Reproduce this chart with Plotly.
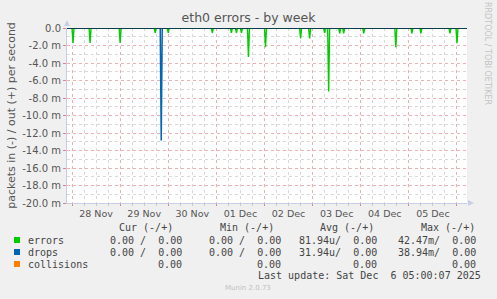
import plotly.graph_objects as go
import pandas as pd

# ---- data (packets per second, "in" direction shown negative) ----
range_start = "2025-11-27 21:30"
range_end = "2025-12-06 05:00"

error_times = ["2025-11-28 00:30", "2025-11-28 09:00", "2025-11-29 00:00", "2025-11-29 17:30",
               "2025-11-30 00:00", "2025-11-30 22:00", "2025-12-01 07:30", "2025-12-01 10:00",
               "2025-12-01 12:30", "2025-12-01 16:00", "2025-12-02 00:30", "2025-12-02 18:00",
               "2025-12-02 22:30", "2025-12-03 06:00", "2025-12-03 08:00", "2025-12-03 13:30",
               "2025-12-03 15:30", "2025-12-04 01:30", "2025-12-04 17:30", "2025-12-05 01:30",
               "2025-12-05 06:00", "2025-12-05 20:30", "2025-12-06 00:00"]
error_values = [-1.71e-3, -1.7e-3, -1.7e-3, -0.55e-3,
                -0.55e-3, -0.55e-3, -0.55e-3, -0.55e-3,
                -0.55e-3, -3.3e-3, -2.2e-3, -1.2e-3,
                -1.2e-3, -0.55e-3, -7.25e-3, -0.6e-3,
                -0.6e-3, -0.6e-3, -2.2e-3, -0.6e-3,
                -0.6e-3, -0.6e-3, -1.75e-3]

drop_times = ["2025-11-29 20:30"]
drop_values = [-12.85e-3]

y_tickvals = [0, -0.002, -0.004, -0.006, -0.008, -0.010, -0.012, -0.014, -0.016, -0.018, -0.020]
y_ticktext = ["0.0", "-2.0 m", "-4.0 m", "-6.0 m", "-8.0 m", "-10.0 m", "-12.0 m",
              "-14.0 m", "-16.0 m", "-18.0 m", "-20.0 m"]

legend_names = ["errors", "drops", "collisions"]
legend_colors = ["#00CC00", "#0066B3", "#FF8000"]
cur_col = ["0.00 /  0.00", "0.00 /  0.00", "0.00"]
min_col = ["0.00 /  0.00", "0.00 /  0.00", "0.00"]
avg_col = ["81.94u/  0.00", "31.94u/  0.00", "0.00"]
max_col = ["42.47m/  0.00", "38.94m/  0.00", "0.00"]
headers = ["Cur (-/+)", "Min (-/+)", "Avg (-/+)", "Max (-/+)"]

# ---- build series on the 30-minute week resolution grid (zero elsewhere) ----
grid = pd.date_range(range_start, range_end, freq="30min")
def series(times, values):
    s = pd.Series(0.0, index=grid)
    for t, v in zip(times, values):
        s[pd.Timestamp(t)] = v
    return s

err = series(error_times, error_values)
drp = series(drop_times, drop_values)

fig = go.Figure()
fig.add_trace(go.Scatter(x=err.index, y=err.values, mode="lines",
                         line=dict(color=legend_colors[0], width=1.4), showlegend=False))
fig.add_trace(go.Scatter(x=drp.index, y=drp.values, mode="lines",
                         line=dict(color=legend_colors[1], width=1.5), showlegend=False))

font_main = "DejaVu Sans"
mono = "DejaVu Sans Mono"
txt = "#555555"

# plot area in pixels
PL, PR, PT, PB = 67, 467, 28, 203
def px(x):
    return (x - PL) / (PR - PL)
def py(y):
    return (PB - y) / (PB - PT)

fig.update_layout(
    width=497, height=299,
    margin=dict(l=PL, r=497 - PR, t=PT, b=299 - PB),
    paper_bgcolor="#F0F0F0", plot_bgcolor="#FFFFFF",
    title=dict(text="eth0 errors - by week", x=0.5, xanchor="center", y=1 - 18 / 299,
               yanchor="middle", font=dict(family=font_main, size=12.5, color=txt)),
    xaxis=dict(type="date", range=[range_start, range_end],
               tick0="2025-11-28", dtick=86400000, tickformat="%d %b",
               ticklabelmode="period",
               showgrid=True, gridcolor="#EDB0B0", griddash="dot", gridwidth=1,
               ticks="outside", ticklen=2, tickcolor="#E08080",
               minor=dict(dtick=6 * 3600000, tick0="2025-11-28", showgrid=True,
                          gridcolor="#D8D8D8", griddash="dot", ticks="outside",
                          ticklen=2, tickcolor="#C8C8C8"),
               showline=True, linecolor="#C8CEE8", linewidth=1,
               tickfont=dict(family=font_main, size=9.5, color=txt), zeroline=False),
    yaxis=dict(range=[-0.020, 0], tickvals=y_tickvals, ticktext=y_ticktext,
               showgrid=True, gridcolor="#EDB0B0", griddash="dot",
               ticks="outside", ticklen=3, tickcolor="#E08080",
               minor=dict(dtick=0.001, showgrid=True, gridcolor="#D8D8D8", griddash="dot"),
               showline=True, linecolor="#C8CEE8", linewidth=1, zeroline=False,
               tickfont=dict(family=font_main, size=10, color=txt),
               title=dict(text="packets in (-) / out (+) per second",
                          font=dict(family=font_main, size=11, color=txt), standoff=4)),
)

# zero rule, axis arrows
fig.add_shape(type="line", xref="paper", yref="y", x0=0, x1=1, y0=0, y1=0,
              line=dict(color="#000000", width=1), layer="above")
fig.add_shape(type="path", xref="paper", yref="paper",
              path=f"M {px(64)} {py(26)} L {px(70)} {py(26)} L {px(67)} {py(20)} Z",
              fillcolor="#C8CEE8", line=dict(width=0))
fig.add_shape(type="path", xref="paper", yref="paper",
              path=f"M {px(468)} {py(200)} L {px(468)} {py(206)} L {px(474)} {py(203)} Z",
              fillcolor="#C8CEE8", line=dict(width=0))

def ann(x, y, text, anchor="left", size=10, color="#444444", family=mono, angle=0):
    fig.add_annotation(x=px(x), y=py(y), xref="paper", yref="paper", text=text,
                       showarrow=False, xanchor=anchor, yanchor="middle", textangle=angle,
                       font=dict(family=family, size=size, color=color))

# watermark
ann(488, 53, "RRDTOOL / TOBI OETIKER", anchor="center", size=8, color="#C4C4C4",
    family=font_main, angle=90)

# legend table
col_right = [184, 283, 379, 478]
head_right = [175, 276, 376, 477]
for h, xr in zip(headers, head_right):
    ann(xr, 227.5, h, anchor="right")
rows_y = [240, 252, 264]
for i, name in enumerate(legend_names):
    y = rows_y[i]
    fig.add_shape(type="rect", xref="paper", yref="paper",
                  x0=px(14), x1=px(20), y0=py(y + 3), y1=py(y - 3),
                  fillcolor=legend_colors[i], line=dict(width=0))
    ann(26, y, name)
    for col, xr in zip([cur_col, min_col, avg_col, max_col], col_right):
        ann(xr, y, col[i], anchor="right")
ann(483, 275.5, "Last update: Sat Dec  6 05:00:07 2025", anchor="right")
ann(248, 288, "Munin 2.0.73", anchor="center", size=7, color="#C0C0C0", family=font_main)

fig.write_html("out.html")
